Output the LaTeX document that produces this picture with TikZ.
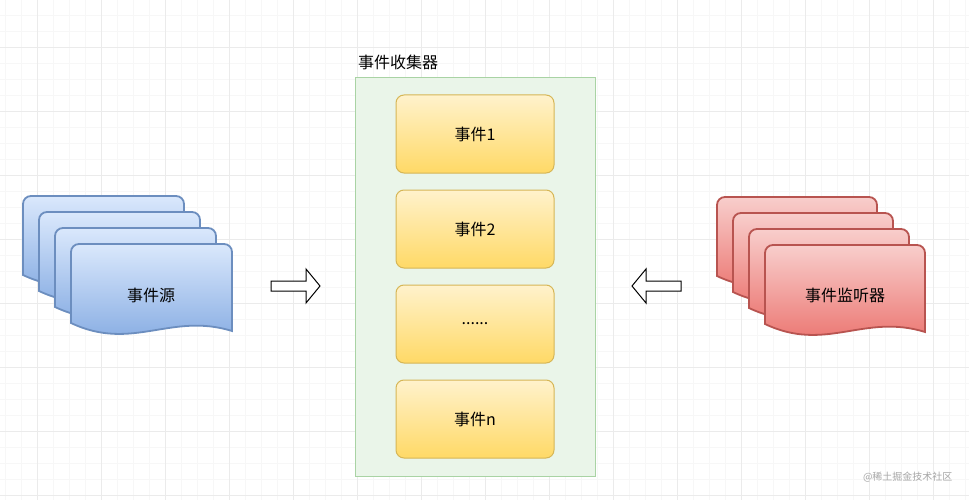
\documentclass[tikz,border=0pt]{standalone}
\usepackage{fontspec}
\setmainfont{Noto Sans CJK SC}
\definecolor{gridc}{HTML}{EBEBEB}
\definecolor{gridm}{HTML}{F7F7F7}
\definecolor{srcfill}{HTML}{DAE8FC}
\definecolor{srcdark}{HTML}{7EA6E0}
\definecolor{srcline}{HTML}{6C8EBF}
\definecolor{lisfill}{HTML}{F8CECC}
\definecolor{lisdark}{HTML}{EA6B66}
\definecolor{lisline}{HTML}{B85450}
\definecolor{evfill}{HTML}{FFF2CC}
\definecolor{evdark}{HTML}{FFD966}
\definecolor{evline}{HTML}{D6B656}
\definecolor{colfill}{HTML}{EAF5E9}
\definecolor{colline}{HTML}{A9D3A4}
% one document sheet: left, top, width, colour prefix
\newcommand\docsheet[4]{%
  \draw[line width=1.8pt,draw=#4line,top color=#4fill,bottom color=#4dark]
    (#1,#2+79) [rounded corners=8pt] -- (#1,#2) -- (#1+#3,#2)
    [sharp corners] -- (#1+#3,#2+87)
    .. controls (#1+0.62*#3,#2+68) and (#1+0.38*#3,#2+108) .. cycle;}
\tikzset{
  event/.style={draw=evline,line width=1pt,rounded corners=8pt,
    top color=evfill,bottom color=evdark,minimum width=158pt,
    minimum height=78pt,font=\fontsize{16}{16}\selectfont},
  label/.style={font=\fontsize{16}{16}\selectfont},
  hollow/.style={draw=black,line width=1pt,fill=white}
}
\begin{document}
\begin{tikzpicture}[x=1pt,y=-1pt]
\useasboundingbox (0,0) rectangle (969,500);
\fill[white] (0,0) rectangle (969,500);
% grid
\foreach \i in {-27,-11,...,969} \draw[gridm] (\i+16,0) -- (\i+16,500);
\foreach \i in {-17,-1,...,500} \draw[gridm] (0,\i+16) -- (969,\i+16);
\foreach \i in {37,101,...,969} \draw[gridc] (\i,0) -- (\i,500);
\foreach \i in {47,111,...,500} \draw[gridc] (0,\i) -- (969,\i);
% event collector
\draw[draw=colline,fill=colfill,line width=1pt] (355,78) rectangle (595,476);
\node[label,anchor=south west,inner sep=0pt] (title) at (358,70) {事件收集器};
\node[event] (ev1) at (475,134) {事件1};
\node[event] (ev2) at (475,229) {事件2};
\node[event] (ev3) at (475,324) {......};
\node[event] (evn) at (475,419) {事件n};
% sources
\foreach \k in {0,1,2,3} \docsheet{23+16*\k}{196+16*\k}{161}{src};
\node[label] (src) at (151,295) {事件源};
% listeners
\foreach \k in {0,1,2,3} \docsheet{717+16*\k}{197+16*\k}{160}{lis};
\node[label] (lis) at (845,295) {事件监听器};
% arrows
\draw[hollow] (271,281) -- (306,281) -- (306,269) -- (320,286) -- (306,303)
  -- (306,291) -- (271,291) -- cycle;
\draw[hollow] (681,281) -- (646,281) -- (646,269) -- (632,286) -- (646,303)
  -- (646,291) -- (681,291) -- cycle;
\node[text=gray!70,font=\fontsize{10}{10}\selectfont,anchor=east] (mark) at (956,477) {@稀土掘金技术社区};
\end{tikzpicture}
\end{document}
